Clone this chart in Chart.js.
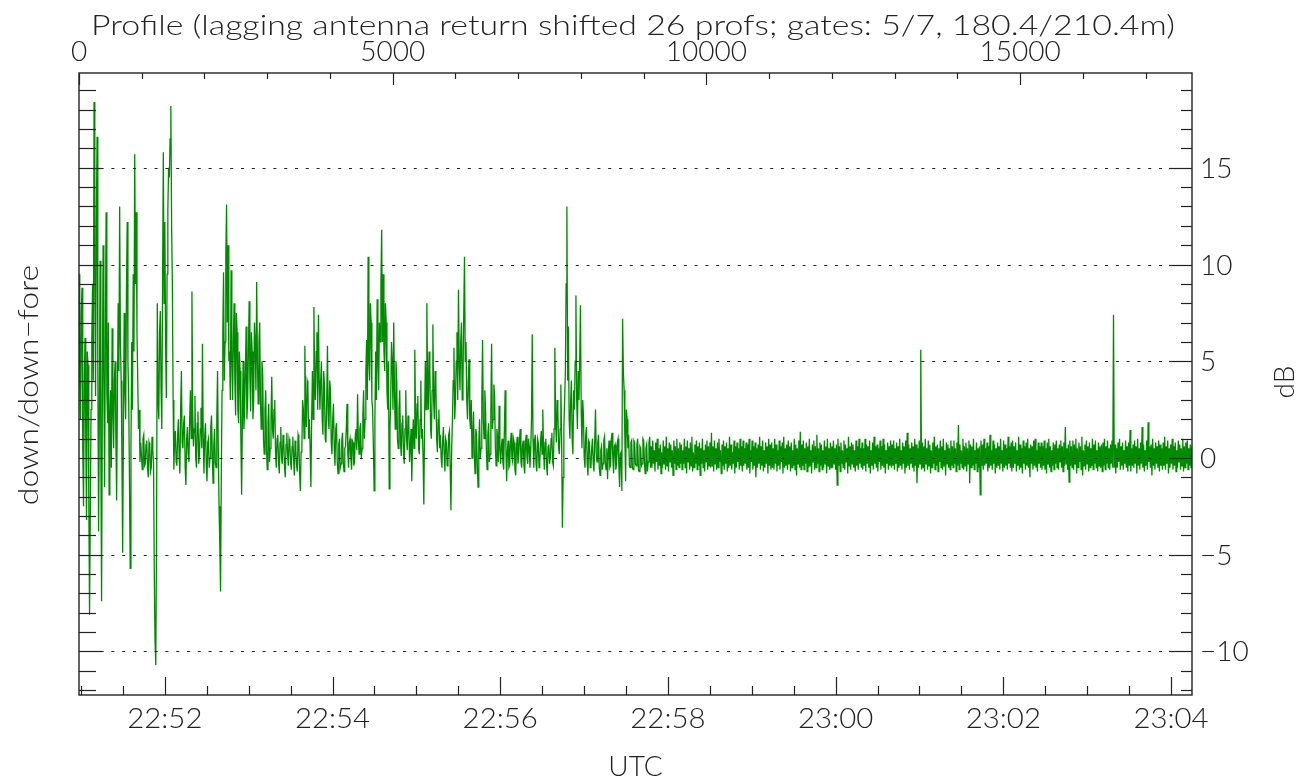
<!DOCTYPE html>
<html>
<head>
<meta charset="utf-8">
<script src="https://cdn.jsdelivr.net/npm/chart.js@4.4.1/dist/chart.umd.min.js"></script>
<style>
  html, body { margin: 0; padding: 0; background: #fff; }
  canvas { display: block; }
</style>
</head>
<body>
<canvas id="plot" width="1310" height="780" style="width:1310px;height:780px"></canvas>
<script>
// ---- texts ----
const titleText = 'Profile (lagging antenna return shifted 26 profs; gates: 5/7, 180.4/210.4m)';
const xTitle = 'UTC';
const yTitleLeft = 'down/down\u2212fore';
const yTitleRight = 'dB';

// ---- axes ----
const profileRange = [0, 17739];                 // top axis: profile number
const timeRange = ['22:50:58.6', '23:04:15.0'];  // bottom axis: UTC
const dbRange = [-12.25, 19.9];                  // ratio in dB

const profileTicks = [0, 5000, 10000, 15000];
const profileTickLabels = ['0', '5000', '10000', '15000'];
const timeTickLabels = ['22:52', '22:54', '22:56', '22:58', '23:00', '23:02', '23:04'];
const dbTicks = [-10, -5, 0, 5, 10, 15];
const dbTickLabels = ['\u221210', '\u22125', '0', '5', '10', '15'];

// ---- series: down/down-fore ratio (dB), one value every PROFILE_STEP profiles ----
const PROFILE_STEP = 12;

// profiles 0 .. 8868: strong fluctuations
const dbDisturbed = [
  9.5, 4.0, 2.0, 7.5, 8.8, 0.5, -2.5, 3.5, 6.2, 1.0, -3.2, 5.5, 4.8, -2.0, -8.1, -3.0, 2.5, 6.0, 9.0, 4.0,
  18.4, 10.0, 3.2, 12.0, 16.6, 5.0, -3.8, 2.0, 10.2, 0.5, -7.4, 3.0, 11.0, 4.0, -1.5, 6.0, 12.7, 3.5, 1.8, 7.0,
  -1.9, 2.0, 3.5, -0.5, 6.7, 2.5, 0.5, 4.0, 5.0, 1.0, -2.2, 3.0, 8.0, 4.5, 13.0, 6.0, 4.0, 0.0, -4.9, 1.5,
  7.5, 3.5, 2.0, 8.5, 12.2, 5.0, 3.0, -1.0, -5.7, 0.5, 6.0, 2.5, 9.5, 5.5, 15.7, 9.0, 12.7, 6.5, 4.1, 1.5,
  2.5, -0.2, 0.8, 0.1, -0.6, 1.0, 1.2, -0.4, -0.3, 0.7, 0.9, -0.5, -1.0, 0.8, 0.6, -0.7, -0.5, 1.1, 0.4, -0.3,
  -6.0, -9.5, -10.7, -4.0, 8.0, 3.0, 2.0, 6.5, 7.6, 3.5, 1.5, 9.0, 15.8, 8.0, 12.2, 6.0, 3.1, 9.5, 12.8, 15.0,
  14.5, 16.5, 18.2, 12.0, 9.0, 3.0, -0.6, 1.0, 1.4, -0.2, -0.4, 1.2, 2.0, 0.0, -0.8, 2.5, 4.5, 0.8, 0.5, 1.8,
  2.2, -0.5, -1.4, 1.0, 1.6, 0.2, -0.2, 2.0, 3.5, 1.0, 8.6, 2.5, 0.6, 1.5, 3.2, 0.0, -0.5, 1.8, 2.4, -0.3,
  0.2, 1.5, 2.6, 0.5, 5.9, 1.0, -0.8, 1.2, 1.8, -0.3, -1.2, 0.8, 1.0, -0.5, 0.0, 1.6, 2.2, 0.3, -1.3, 0.6,
  1.5, -0.2, -0.5, 2.0, 4.5, 0.5, -2.5, -4.5, -6.9, -1.0, 3.5, 6.5, 9.6, 4.0, 6.0, 10.5, 13.1, 7.0, 11.0, 5.0,
  5.5, 3.0, 9.7, 5.0, 3.0, 6.0, 8.0, 4.0, 2.2, 7.5, 6.5, 2.5, 1.8, 5.5, 4.5, 1.0, -1.9, 2.0, 5.0, 1.5,
  2.5, 4.5, 6.8, 2.0, 3.0, 5.5, 8.1, 4.0, 2.4, 6.5, 5.5, 2.0, 3.0, 7.0, 6.0, 3.5, 9.1, 5.0, 2.8, 6.0,
  7.0, 3.0, 1.5, 5.0, 4.3, 1.0, 0.2, 2.5, 3.5, 0.5, -0.6, 1.8, 2.8, -0.2, 0.5, 2.0, 4.2, 1.5, 1.0, 2.5,
  3.0, 0.3, -0.5, 1.0, 1.2, -0.2, -0.8, 0.8, 1.6, 0.0, -0.3, 1.2, 0.9, -0.5, -1.0, 0.7, 1.3, 0.2, -0.4, 1.0,
  0.8, -0.2, -0.6, 0.6, 1.1, 0.0, -0.9, 0.9, 0.4, -0.4, -0.7, 1.2, 1.0, -0.8, -1.7, 0.3, 0.5, 3.0, 2.5, 1.0,
  5.8, 2.5, 1.6, 4.0, 3.8, 1.0, 2.0, 0.5, -1.5, 2.0, 4.5, 2.0, 7.8, 4.0, 3.0, 5.5, 6.5, 2.5, 7.4, 4.0,
  2.5, 4.0, 5.0, 2.0, 1.2, 4.5, 3.8, 1.0, 0.8, 3.0, 5.8, 2.0, 1.5, 4.0, 3.5, 0.8, 0.2, 2.0, 2.8, 0.5,
  -0.4, 1.5, 1.8, -0.2, -0.8, 0.7, 1.0, -0.5, -0.3, 0.9, 1.3, -0.2, -0.7, 0.5, 0.6, 1.5, 2.8, 0.3, -0.5, 0.8,
  1.0, 0.0, -0.6, 0.9, 0.8, -0.4, -0.2, 1.2, 1.5, 0.4, 3.3, 1.0, 0.2, 1.5, 1.8, 0.0, 0.5, 2.2, 3.5, 1.0,
  2.0, 4.5, 6.1, 3.0, 10.4, 5.0, 4.0, 8.0, 7.0, 3.0, 2.5, 0.5, -1.7, 2.0, 5.5, 3.0, 8.2, 5.0, 3.5, 7.0,
  6.0, 9.0, 11.8, 6.0, 9.5, 5.5, 4.5, 8.0, 7.0, 3.5, 2.5, 5.0, -1.6, 1.5, 3.0, 6.0, 5.0, 2.5, 7.0, 3.5,
  1.5, 5.0, 4.0, 1.0, 0.5, 2.5, 3.5, 0.8, 0.1, 1.8, 2.2, 0.2, -0.3, 1.5, 3.5, 1.0, 0.4, 2.2, 1.8, -0.2,
  0.5, 1.5, -1.2, 0.8, 2.0, 0.5, 5.6, 2.0, 1.0, 2.8, 3.2, 0.5, 0.2, 2.0, 4.0, 1.0, 1.5, 0.0, -2.4, 2.0,
  5.0, 2.5, 8.0, 4.0, 2.5, 5.5, 4.5, 1.5, 1.0, 3.5, 6.9, 3.0, 2.0, 4.5, 3.8, 1.0, 0.3, 2.0, 2.5, 0.5,
  1.2, 0.0, -0.5, 0.9, 1.6, 0.2, -0.7, 1.0, 0.8, -0.4, -0.2, 1.2, 1.4, -0.5, -2.7, 0.5, 2.0, 4.0, 5.7, 2.0,
  3.0, 5.0, 6.5, 3.0, 8.7, 5.0, 3.5, 6.0, 7.0, 3.0, 4.0, 7.5, 10.4, 5.0, 6.0, 3.0, 2.0, 4.0, 5.1, 2.0,
  1.5, 3.0, 0.0, 1.2, 2.4, 0.3, -0.8, 1.5, 1.2, -0.3, -1.5, 0.8, 2.0, 0.0, 0.5, 3.0, 6.1, 2.0, 1.0, 3.5,
  2.5, 0.5, -0.6, 1.2, 1.8, -0.2, 0.2, 2.5, 5.9, 1.5, 2.0, 3.8, 3.2, 0.5, -0.4, 1.5, 1.0, -0.2, 2.7, 0.5,
  -0.3, 0.6, 1.0, -0.2, -0.6, 1.5, 3.5, 0.5, -1.2, 0.4, 0.9, -0.5, -0.4, 0.7, 1.3, 0.0, -0.2, 1.0, 0.8, -0.6,
  -0.9, 0.5, 1.1, -0.3, 0.1, 0.9, 1.5, -0.2, -0.5, 0.6, 0.9, -0.4, -0.8, 0.8, 1.2, 0.0, -0.3, 1.0, 0.6, -0.5,
  0.4, 2.0, 6.4, 1.0, -0.5, 0.8, 1.2, -0.3, -0.7, 1.0, 0.8, -0.5, -0.2, 0.9, 1.4, 0.2, 2.5, 0.5, -0.6, 0.8,
  1.0, -0.4, -0.9, 0.6, 0.7, -0.3, 0.0, 1.0, 1.3, -0.2, -0.4, 1.5, 5.7, 2.0, 0.8, 3.0, 2.4, 0.5, 0.2, 1.5,
  3.8, 1.0, -3.6, -1.0, 1.5, 3.0, 4.5, 9.0, 13.0, 4.0, 6.8, 2.0, 1.0, 3.0, 4.0, 1.0, 0.2, 3.5, 2.5, 5.0,
  8.4, 3.0, 1.5, 4.5, 3.0, 5.0, 7.9, 2.5, 0.5, 3.0, 2.2, 0.0, -0.5, 1.2, 1.6, -0.3, -0.9, 0.9, 0.8, -0.5,
  -0.4, 0.5, 1.0, -0.3, -0.7, 0.9, 2.5, 0.2, -0.2, 0.8, 1.2, -0.5, -0.9, 0.4, 0.6, -0.6, -0.3, 0.9, 1.1, -0.2,
  -0.6, 0.5, -1.1, 0.3, 0.9, -0.5, -0.4, 1.0, 1.3, 0.0, -0.8, 0.6, 0.7, -0.6, -0.3, 0.8, 1.0, -0.4, -1.5, 0.2,
  0.3, -1.7, 7.2, 4.5, 3.5, 1.0, -1.2, 2.5, 2.0, 0.5, 1.2, -0.4, -0.5, 0.8, 0.9, -0.5, -0.6, 0.9, 0.8, -0.3,
  -0.4, 0.7, 1.0, -0.6, -0.7, 0.6, 0.5, -0.4, -0.3, 1.0, 0.9, -0.2, -0.8, 0.5, 0.7, -0.7, -0.2, 0.8, 1.1, -0.5
];

// profiles 8880 .. end: settled, with three isolated spikes
const dbSettled = [
  0.6, -0.5, 0.9, -0.3, 0.4, -0.7, 0.8, -0.2, 1.0, -0.6, 0.5, -0.4, 0.7, -0.8, 0.3, -0.5, 0.9, -0.3, 0.6, -0.6,
  1.1, -0.4, 0.5, -0.7, 0.8, -0.2, 0.7, -0.5, 0.4, -0.9, 0.9, -0.3, 0.6, -0.6, 1.0, -0.4, 0.5, -0.5, 0.8, -0.3,
  0.7, -0.6, 0.4, -0.3, 1.0, -0.5, 0.6, -0.8, 0.9, -0.2, 0.5, -0.6, 0.8, -0.4, 1.1, -0.7, 0.3, -0.5, 0.7, -0.3,
  0.9, -0.6, 0.6, -0.4, 0.8, -0.9, 0.5, -0.3, 1.0, -0.5, 0.4, -0.7, 0.7, -0.2, 0.9, -0.6, 0.6, -0.4, 0.8, -0.5,
  1.3, -0.4, 0.6, -0.7, 0.9, -0.3, 0.5, -0.6, 0.8, -0.5, 1.0, -0.2, 0.4, -0.8, 0.7, -0.4, 0.9, -0.6, 0.6, -0.3,
  0.8, -0.7, 0.5, -0.5, 1.1, -0.4, 0.7, -0.6, 0.3, -0.3, 0.9, -0.8, 0.6, -0.5, 0.8, -0.2, 0.5, -0.6, 1.0, -0.4,
  0.6, -0.7, 0.9, -0.4, 0.5, -0.3, 0.8, -0.6, 0.7, -0.5, 1.0, -0.8, 0.4, -0.2, 0.9, -0.6, 0.6, -0.4, 0.8, -1.0,
  0.5, -0.5, 0.7, -0.3, 1.1, -0.6, 0.6, -0.4, 0.9, -0.7, 0.4, -0.5, 0.8, -0.3, 0.6, -0.8, 1.0, -0.4, 0.7, -0.6,
  0.8, -0.5, 0.5, -0.6, 1.0, -0.3, 0.7, -0.7, 0.4, -0.4, 0.9, -0.6, 0.6, -0.2, 0.8, -0.8, 1.1, -0.5, 0.5, -0.4,
  0.7, -0.6, 0.9, -0.3, 0.6, -0.7, 0.8, -0.5, 0.4, -0.4, 1.0, -0.6, 0.7, -0.9, 0.5, -0.3, 0.9, -0.5, 1.35, -0.6,
  0.7, -0.4, 0.9, -0.6, 0.5, -0.3, 0.8, -0.7, 0.6, -0.5, 1.0, -0.4, 0.4, -0.8, 0.7, -0.2, 0.9, -0.6, 0.6, -0.5,
  1.2, -0.3, 0.5, -0.7, 0.8, -0.4, 0.7, -0.6, 0.4, -0.5, 0.9, -0.3, 0.6, -0.8, 1.0, -0.4, 0.5, -0.6, 0.8, -0.5,
  0.6, -0.5, 0.9, -0.3, 0.5, -0.6, 0.7, -1.4, 1.0, -0.4, 0.6, -0.7, 0.8, -0.3, 0.4, -0.5, 0.9, -0.6, 0.7, -0.2,
  0.5, -0.8, 1.1, -0.4, 0.6, -0.6, 0.8, -0.3, 0.7, -0.5, 0.4, -0.7, 0.9, -0.4, 0.6, -0.6, 1.0, -0.3, 0.5, -0.5,
  0.8, -0.6, 0.5, -0.4, 1.0, -0.7, 0.7, -0.3, 0.6, -0.5, 0.9, -0.8, 0.4, -0.4, 0.8, -0.6, 1.1, -0.3, 0.6, -0.5,
  0.7, -0.7, 0.5, -0.2, 0.9, -0.6, 0.6, -0.4, 1.0, -0.5, 0.7, -0.8, 0.4, -0.3, 0.8, -0.6, 0.6, -0.4, 0.9, -0.5,
  0.7, -0.4, 0.9, -0.6, 0.5, -0.3, 0.8, -0.7, 0.6, -0.5, 1.0, -0.4, 0.4, -0.6, 0.8, -0.3, 0.6, -0.8, 0.9, -0.5,
  1.3, -0.4, 0.7, -0.6, 0.5, -0.3, 0.8, -0.5, 0.6, -0.7, 1.0, -0.4, 0.7, -1.3, 0.5, -0.5, 0.9, -0.3, 5.6, -0.6,
  0.8, -0.5, 0.6, -0.7, 1.0, -0.3, 0.5, -0.6, 0.9, -0.4, 0.7, -0.8, 0.4, -0.5, 0.8, -0.3, 1.1, -0.6, 0.6, -0.4,
  0.7, -0.7, 0.5, -0.2, 0.9, -0.5, 0.6, -0.6, 1.0, -0.4, 0.4, -0.9, 0.8, -0.3, 0.7, -0.5, 0.5, -0.6, 0.9, -0.4,
  0.6, -0.5, 0.9, -0.3, 0.5, -0.7, 0.8, -0.4, 1.7, -0.6, 0.7, -0.3, 0.4, -0.5, 1.0, -0.6, 0.6, -0.4, 0.8, -0.7,
  0.5, -0.3, 0.9, -1.3, 0.7, -0.5, 0.6, -0.4, 1.0, -0.6, 0.4, -0.3, 0.8, -0.7, 0.5, -0.5, 0.6, -1.9, 0.9, -0.4,
  0.7, -0.6, 1.0, -0.4, 0.5, -0.3, 0.8, -0.7, 0.6, -0.5, 1.2, -0.4, 0.4, -0.6, 0.9, -0.3, 0.7, -0.8, 0.5, -0.5,
  0.8, -0.4, 0.6, -0.6, 1.0, -0.3, 0.4, -0.7, 0.9, -0.5, 0.7, -0.4, 0.5, -0.6, 1.1, -0.3, 0.6, -0.5, 0.8, -0.7,
  0.9, -0.5, 0.6, -0.3, 0.8, -0.7, 0.4, -0.4, 1.1, -0.6, 0.7, -0.5, 0.5, -0.8, 0.9, -0.3, 0.6, -0.6, 0.8, -0.4,
  1.0, -0.5, 0.5, -1.0, 0.7, -0.3, 0.6, -0.6, 0.9, -0.4, 1.0, -0.5, 0.4, -0.7, 0.8, -0.3, 0.6, -0.5, 0.8, -0.6,
  0.6, -0.4, 0.9, -0.6, 0.5, -0.8, 0.8, -0.3, 1.0, -0.5, 0.6, -0.7, 0.4, -0.4, 0.8, -0.6, 0.7, -0.3, 0.9, -0.5,
  0.5, -0.6, 0.7, -0.2, 0.9, -0.5, 0.6, -0.7, 0.8, -0.4, 1.6, -0.3, 0.5, -0.6, 0.7, -1.25, 0.9, -0.4, 0.6, -0.5,
  0.9, -0.6, 0.7, -0.3, 1.0, -0.8, 0.5, -0.5, 0.8, -0.2, 0.6, -0.6, 1.1, -0.9, 0.4, -0.4, 0.7, -0.6, 0.9, -0.3,
  0.6, -0.7, 0.8, -0.5, 0.5, -0.4, 1.0, -0.6, 0.7, -0.3, 0.9, -0.5, 0.4, -0.7, 0.8, -0.4, 0.6, -0.5, 0.7, -0.7,
  0.8, -0.4, 1.0, -0.6, 0.6, -0.3, 0.9, -0.5, 0.5, -0.6, 0.7, -0.3, 0.9, -0.5, 7.4, -0.5, 0.7, -0.8, 0.5, -0.5,
  0.8, -0.2, 1.0, -0.6, 0.6, -0.4, 0.8, -0.6, 0.4, -0.3, 0.9, -0.5, 0.6, -0.7, 0.8, -0.4, 1.45, -0.7, 0.5, -0.4,
  0.7, -0.5, 0.9, -0.3, 0.6, -0.8, 1.0, -0.4, 0.5, -0.6, 0.8, -0.3, 1.6, -0.5, 0.7, -0.7, 0.4, -0.4, 0.9, -0.6,
  1.85, -0.2, 0.6, -0.5, 0.7, -0.9, 1.0, -0.4, 0.5, -0.6, 0.8, -0.3, 0.6, -0.5, 0.9, -0.7, 0.7, -0.4, 0.5, -0.6,
  0.8, -0.4, 1.1, -0.6, 0.6, -0.3, 0.9, -0.8, 0.5, -0.5, 0.7, -0.3, 1.0, -0.6, 0.6, -0.4, 0.8, -0.7, 0.4, -0.5,
  0.9, -0.2, 0.7, -0.6, 0.5, -0.4, 1.0, -0.7, 0.6, -0.5, 0.8, -0.3, 0.9, -0.6, 0.5, -0.4, 0.7, -0.5, 0.6, -0.3
];

const dbValues = dbDisturbed.concat(dbSettled);

// ---- helpers ----
function toSec(hms) {
  const p = hms.split(':').map(Number);
  return p[0] * 3600 + p[1] * 60 + (p[2] || 0);
}

const INK = '#222';
const FONT = '300 28px Lato, "Open Sans", "DejaVu Sans", sans-serif';

// draws one label; sx widens the glyph run along the text direction
function drawText(ctx, s, x, y, align, rot, sx) {
  ctx.save();
  ctx.translate(x, y);
  if (rot) ctx.rotate(rot);
  ctx.scale(sx || 1, 1);
  ctx.textAlign = align;
  ctx.textBaseline = 'alphabetic';
  ctx.fillText(s, 0, 0);
  ctx.restore();
}

function seg(ctx, x1, y1, x2, y2) {
  ctx.beginPath();
  ctx.moveTo(x1, y1);
  ctx.lineTo(x2, y2);
  ctx.stroke();
}

// IDL-style box: dotted grid, inward ticks on all four sides, labels
const idlFrame = {
  id: 'idlFrame',
  afterDatasetsDraw(chart) {
    const { ctx, chartArea: a, scales } = chart;
    const xp = scales.x, xt = scales.xTime, y = scales.y;
    ctx.save();

    // dotted reference lines
    ctx.strokeStyle = INK;
    ctx.lineWidth = 1;
    ctx.setLineDash([3, 7.8]);
    dbTicks.forEach(v => {
      const py = Math.round(y.getPixelForValue(v)) + 0.5;
      seg(ctx, a.left, py, a.right, py);
    });
    ctx.setLineDash([]);

    // box
    ctx.lineWidth = 1.4;
    ctx.strokeRect(a.left, a.top, a.right - a.left, a.bottom - a.top);

    // dB ticks, every 1 dB
    ctx.lineWidth = 1.2;
    for (let v = Math.ceil(dbRange[0]); v <= Math.floor(dbRange[1]); v++) {
      const py = Math.round(y.getPixelForValue(v)) + 0.5;
      const major = v % 5 === 0;
      seg(ctx, a.left, py, a.left + (major ? 23 : 17), py);
      seg(ctx, a.right - (major ? 23 : 11), py, a.right, py);
    }

    // profile ticks, every 1000
    for (let p = 0; p <= profileRange[1]; p += 1000) {
      const px = Math.round(xp.getPixelForValue(p)) + 0.5;
      seg(ctx, px, a.top, px, a.top + (p % 5000 === 0 ? 12 : 6));
    }

    // time ticks, every 30 s
    const t0 = Math.ceil(toSec(timeRange[0]) / 30) * 30;
    for (let t = t0; t <= toSec(timeRange[1]); t += 30) {
      const px = Math.round(xt.getPixelForValue(t)) + 0.5;
      const major = t % 120 === 0;
      seg(ctx, px, a.bottom - (major ? 18 : 9), px, a.bottom);
    }

    // labels
    ctx.fillStyle = INK;
    ctx.font = FONT;
    drawText(ctx, titleText, 633, 35, 'center', 0, 1.21);
    profileTicks.forEach((p, i) => drawText(ctx, profileTickLabels[i], xp.getPixelForValue(p), 61, 'center'));
    timeTickLabels.forEach(s => drawText(ctx, s, xt.getPixelForValue(toSec(s)), 728, 'center', 0, 1.05));
    dbTicks.forEach((v, i) => drawText(ctx, dbTickLabels[i], a.right + 8, y.getPixelForValue(v) + 10, 'left'));
    drawText(ctx, xTitle, (a.left + a.right) / 2, 776, 'center');
    drawText(ctx, yTitleLeft, 38, 385, 'center', -Math.PI / 2, 1.14);
    drawText(ctx, yTitleRight, 1294, 382, 'center', -Math.PI / 2);

    ctx.restore();
  }
};

new Chart(document.getElementById('plot'), {
  type: 'line',
  data: {
    datasets: [{
      data: dbValues.map((v, i) => ({ x: i * PROFILE_STEP, y: v })),
      borderColor: '#008a00',
      borderWidth: 1.3,
      pointRadius: 0,
      tension: 0,
      fill: false
    }]
  },
  options: {
    responsive: false,
    devicePixelRatio: 1,
    animation: false,
    events: [],
    layout: { padding: { left: 79, top: 73, right: 118, bottom: 85 } },
    plugins: { legend: { display: false }, tooltip: { enabled: false } },
    scales: {
      x: { type: 'linear', min: profileRange[0], max: profileRange[1], display: false },
      xTime: { type: 'linear', axis: 'x', position: 'bottom', min: toSec(timeRange[0]), max: toSec(timeRange[1]), display: false },
      y: { type: 'linear', min: dbRange[0], max: dbRange[1], display: false }
    }
  },
  plugins: [idlFrame]
});
</script>
</body>
</html>
